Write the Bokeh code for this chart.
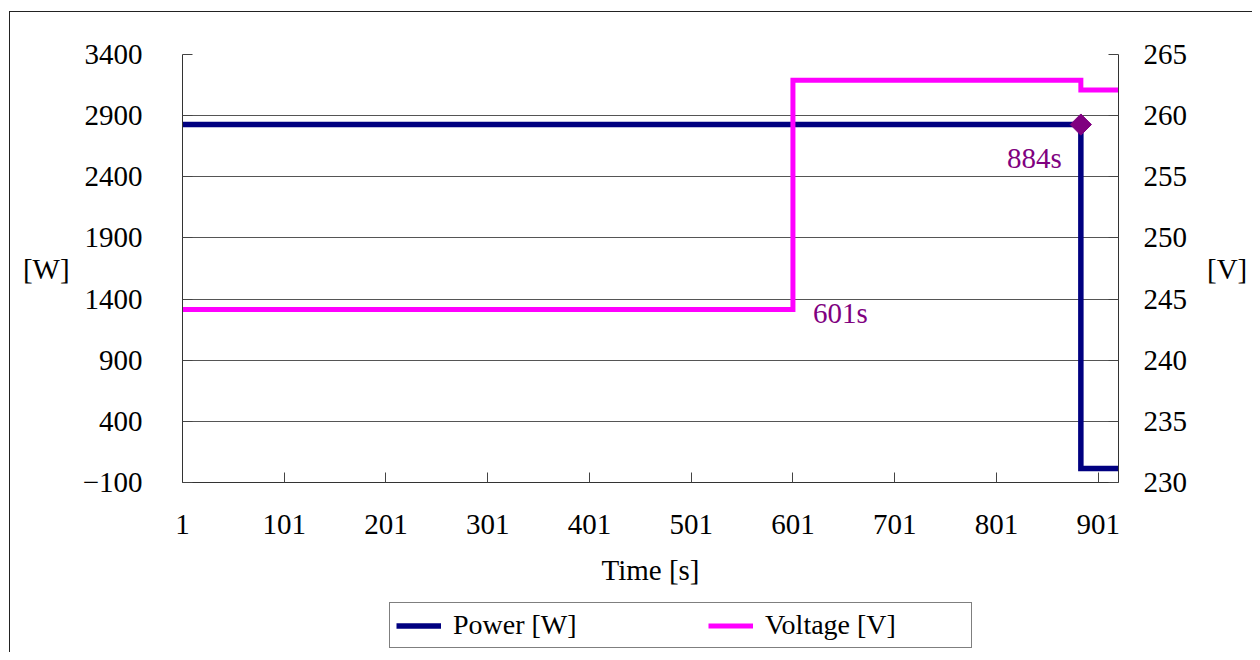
from bokeh.plotting import figure
from bokeh.layouts import column
from bokeh.models import Range1d, LinearAxis, FixedTicker, Legend, LegendItem
from bokeh.core.properties import value
from bokeh.embed import file_html
from bokeh.resources import INLINE

# ---- data ----
time_ticks = [1, 101, 201, 301, 401, 501, 601, 701, 801, 901]
power_ticks = [-100, 400, 900, 1400, 1900, 2400, 2900, 3400]
voltage_ticks = [230, 235, 240, 245, 250, 255, 260, 265]

power_time = [1, 884, 884, 921]
power_w = [2827, 2827, 15, 15]

voltage_time = [1, 601, 601, 884, 884, 921]
voltage_v = [244.15, 244.15, 262.9, 262.9, 262.1, 262.1]

marker_time = [884]
marker_power = [2827]
marker_text = ["884s"]
switch_time = [601]
switch_voltage = [244.15]
switch_text = ["601s"]

series_names = ["Power [W]", "Voltage [V]"]

FONT = "Liberation Serif"
FS = "29px"
NAVY = "#000080"
MAGENTA = "#FF00FF"
PURPLE = "#800080"

p = figure(width=1252, height=600, output_backend="svg", toolbar_location=None,
           x_range=Range1d(1, 921), y_range=Range1d(-100, 3400),
           min_border_left=182, min_border_top=54, min_border_right=134, min_border_bottom=118)
p.styles = {"background": "linear-gradient(#222,#222) 9px 11px / 1px 100% no-repeat, "
                          "linear-gradient(#222,#222) 9px 11px / 100% 1px no-repeat, white"}
p.outline_line_color = None
p.background_fill_color = "white"
p.border_fill_alpha = 0

p.extra_y_ranges = {"v": Range1d(230, 265)}

# axes styling
p.xaxis.ticker = FixedTicker(ticks=time_ticks)
p.yaxis.ticker = FixedTicker(ticks=power_ticks)
p.yaxis.major_label_overrides = {-100: "\u2212100"}
for ax in (p.xaxis[0], p.yaxis[0]):
    ax.major_tick_in = 10
    ax.major_tick_out = 0
    ax.minor_tick_in = 0
    ax.minor_tick_out = 0
    ax.axis_line_color = "#333333"
    ax.major_tick_line_color = "#444444"
    ax.major_label_text_font = FONT
    ax.major_label_text_font_size = FS
    ax.major_label_text_color = "black"
    ax.axis_label_text_font = FONT
    ax.axis_label_text_font_size = FS
    ax.axis_label_text_font_style = "normal"
    ax.axis_label_text_color = "black"

p.xaxis.axis_label = "Time [s]"
p.xaxis.major_label_standoff = 32
p.xaxis.axis_label_standoff = 17

p.yaxis.axis_label = "[W]"
p.yaxis.axis_label_orientation = "horizontal"
p.yaxis.major_label_standoff = 40
p.yaxis.axis_label_standoff = 10

ry = LinearAxis(y_range_name="v", ticker=FixedTicker(ticks=voltage_ticks), axis_label="[V]")
ry.axis_label_orientation = "horizontal"
ry.major_tick_in = 10
ry.major_tick_out = 0
ry.minor_tick_in = 0
ry.minor_tick_out = 0
ry.axis_line_color = "#333333"
ry.major_tick_line_color = "#444444"
ry.major_label_text_font = FONT
ry.major_label_text_font_size = FS
ry.major_label_text_color = "black"
ry.major_label_standoff = 25
ry.axis_label_text_font = FONT
ry.axis_label_text_font_size = FS
ry.axis_label_text_font_style = "normal"
ry.axis_label_text_color = "black"
ry.axis_label_standoff = 17
p.add_layout(ry, "right")

p.xgrid.grid_line_color = None
p.ygrid.ticker = FixedTicker(ticks=power_ticks)
p.ygrid.grid_line_color = "#555555"
p.ygrid.grid_line_width = 1

# series
p.line(power_time, power_w, line_color=NAVY, line_width=5.5, line_join="miter")
p.line(voltage_time, voltage_v, y_range_name="v", line_color=MAGENTA, line_width=5, line_join="miter")

p.scatter(marker_time, marker_power, marker="square", angle=0.785398, size=15,
          fill_color=PURPLE, line_color=PURPLE)

p.text(x=marker_time, y=marker_power, text=marker_text, x_offset=-19, y_offset=33,
       text_align="right", text_baseline="middle", text_font=value(FONT),
       text_font_size=FS, text_color=PURPLE)
p.text(x=switch_time, y=switch_voltage, text=switch_text, y_range_name="v", x_offset=20, y_offset=4,
       text_align="left", text_baseline="middle", text_font=value(FONT),
       text_font_size=FS, text_color=PURPLE)

# ---- legend strip below the chart ----
q = figure(width=1252, height=52, output_backend="svg", toolbar_location=None,
           x_range=Range1d(0, 1), y_range=Range1d(0, 1),
           x_axis_location=None, y_axis_location=None, min_border=0)
q.styles = {"background": "linear-gradient(#222,#222) 9px 0 / 1px 100% no-repeat, white"}
q.outline_line_color = None
q.background_fill_alpha = 0
q.border_fill_alpha = 0
q.xgrid.visible = False
q.ygrid.visible = False
# legend-only renderers (kept outside the visible range)
lp = q.line([0, 1], [-5, -5], line_color=NAVY, line_width=5.5)
lv = q.line([0, 1], [-5, -5], line_color=MAGENTA, line_width=5)

legend = Legend(items=[LegendItem(label=series_names[0], renderers=[lp]),
                       LegendItem(label=series_names[1], renderers=[lv])],
                orientation="horizontal", location=(207, 4))
legend.label_text_font = FONT
legend.label_text_font_size = "28px"
legend.label_text_color = "black"
legend.glyph_width = 45
legend.glyph_height = 29
legend.label_height = 29
legend.label_width = 200
legend.label_standoff = 12
legend.spacing = 55
legend.padding = 6
legend.margin = 0
legend.border_line_color = "black"
legend.border_line_width = 1
legend.background_fill_color = "white"
legend.background_fill_alpha = 1
q.add_layout(legend, "center")

layout = column(p, q, spacing=0)
open("out.html", "w").write(file_html(layout, INLINE))
